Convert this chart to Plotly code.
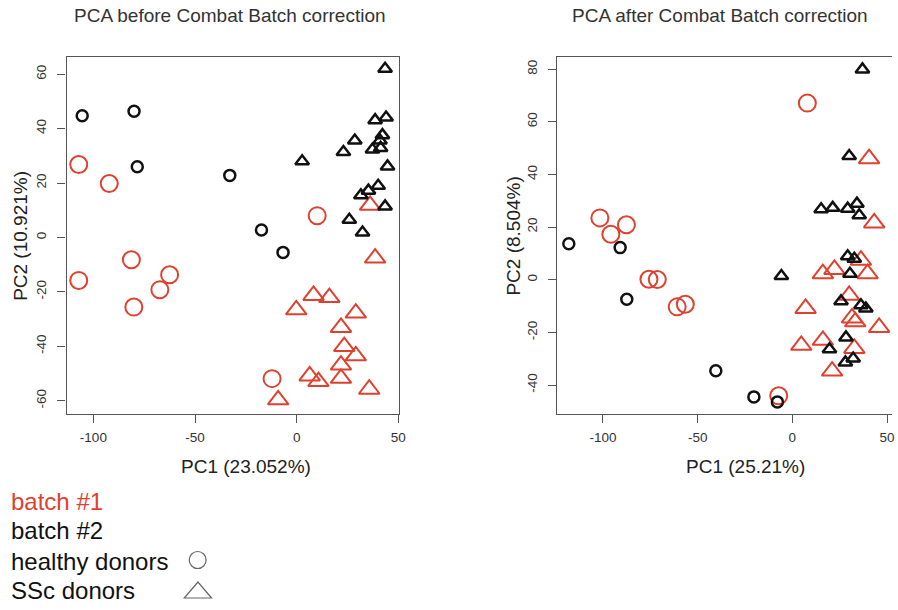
import plotly.graph_objects as go

# ---------------- data: PCA before ComBat ----------------
before_b1_healthy_pc1 = [-107.2, -92.2, 10.1, -81.3, -107.2, -62.5, -67.3, -80.1, -12.1]
before_b1_healthy_pc2 = [26.8, 19.8, 8.0, -8.2, -15.8, -13.7, -19.2, -25.6, -51.9]

before_b2_healthy_pc1 = [-105.5, -80.0, -78.4, -32.9, -17.3, -6.7]
before_b2_healthy_pc2 = [44.7, 46.4, 26.0, 22.8, 2.7, -5.5]

before_b1_ssc_pc1 = [36.1, 38.6, 8.3, 16.1, -0.2, 29.1, 21.8, 23.4, 29.1, 21.8, 6.4, 10.7, 21.8, 35.7, -9.1]
before_b1_ssc_pc2 = [11.8, -7.6, -21.3, -22.1, -26.6, -27.8, -33.1, -40.1, -43.5, -46.9, -50.9, -53.0, -51.8, -55.8, -59.7]

before_b2_ssc_pc1 = [43.5, 38.6, 44.0, 28.6, 23.0, 42.2, 41.0, 37.3, 41.3, 44.7, 2.7, 40.1, 35.3, 31.6, 43.5, 25.9, 32.4]
before_b2_ssc_pc2 = [62.0, 43.1, 44.1, 35.6, 31.4, 37.6, 35.6, 32.3, 32.9, 26.1, 28.0, 19.0, 17.2, 15.5, 11.4, 6.5, 1.8]

# ---------------- data: PCA after ComBat ----------------
after_b1_healthy_pc1 = [7.9, -101.6, -95.8, -87.6, -75.7, -71.3, -60.8, -56.5, -7.2]
after_b1_healthy_pc2 = [67.1, 23.5, 17.3, 20.9, 0.2, 0.1, -10.3, -9.3, -44.1]

after_b2_healthy_pc1 = [-118.0, -90.9, -87.4, -40.4, -20.3, -7.9]
after_b2_healthy_pc2 = [13.7, 12.2, -7.4, -34.6, -44.5, -46.4]

after_b1_ssc_pc1 = [40.5, 43.2, 36.2, 16.1, 22.2, 39.7, 30.0, 7.0, 33.2, 31.5, 45.8, 4.7, 16.1, 32.7, 21.0]
after_b1_ssc_pc2 = [46.0, 21.6, 7.4, 2.3, 3.9, 2.3, -5.9, -10.9, -16.0, -14.5, -18.1, -24.9, -23.0, -26.1, -34.7]

after_b2_ssc_pc1 = [37.0, 30.0, 15.2, 21.3, 29.2, 34.1, 35.3, 29.2, 32.7, -5.8, 30.4, 25.7, 36.2, 38.8, 28.3, 19.6, 28.0, 32.1]
after_b2_ssc_pc2 = [79.9, 47.0, 26.8, 27.3, 27.0, 28.9, 24.5, 8.9, 8.0, 1.4, 2.3, -8.2, -9.7, -10.9, -21.9, -26.4, -31.4, -29.9]

x_ticks = [-100, -50, 0, 50]
x_tick_labels = ["-100", "-50", "0", "50"]
before_y_ticks = [-60, -40, -20, 0, 20, 40, 60]
before_y_tick_labels = ["-60", "-40", "-20", "0", "20", "40", "60"]
after_y_ticks = [-40, -20, 0, 20, 40, 60, 80]
after_y_tick_labels = ["-40", "-20", "0", "20", "40", "60", "80"]

titles = ["PCA before Combat Batch correction", "PCA after Combat Batch correction"]
x_titles = ["PC1 (23.052%)", "PC1 (25.21%)"]
y_titles = ["PC2 (10.921%)", "PC2 (8.504%)"]
legend_labels = ["batch #1", "batch #2", "healthy donors", "SSc donors"]

RED = "#e0412f"
BLACK = "#111111"
W, H = 898, 610


def px(x):
    return x / W


def py(y):
    return 1 - y / H


fig = go.Figure()


def add_group(xs, ys, color, symbol, size, lw, xa, ya):
    fig.add_trace(go.Scatter(
        x=xs, y=ys, mode="markers", xaxis=xa, yaxis=ya, showlegend=False,
        hoverinfo="skip",
        marker=dict(symbol=symbol, size=size, color=color,
                    line=dict(color=color, width=lw)),
    ))


# before
add_group(before_b1_healthy_pc1, before_b1_healthy_pc2, RED, "circle-open", 17, 2, "x", "y")
add_group(before_b2_healthy_pc1, before_b2_healthy_pc2, BLACK, "circle-open", 11, 2.5, "x", "y")
add_group(before_b1_ssc_pc1, before_b1_ssc_pc2, RED, "triangle-up-open", 18, 2, "x", "y")
add_group(before_b2_ssc_pc1, before_b2_ssc_pc2, BLACK, "triangle-up-open", 12, 2.5, "x", "y")
# after
add_group(after_b1_healthy_pc1, after_b1_healthy_pc2, RED, "circle-open", 17, 2, "x2", "y2")
add_group(after_b2_healthy_pc1, after_b2_healthy_pc2, BLACK, "circle-open", 11, 2.5, "x2", "y2")
add_group(after_b1_ssc_pc1, after_b1_ssc_pc2, RED, "triangle-up-open", 18, 2, "x2", "y2")
add_group(after_b2_ssc_pc1, after_b2_ssc_pc2, BLACK, "triangle-up-open", 12, 2.5, "x2", "y2")

FONT = "Liberation Sans, Arial, sans-serif"
tickfont = dict(family=FONT, size=13.5, color="#333333")
common = dict(showgrid=False, zeroline=False, showline=True, linecolor="#555555",
              linewidth=1.3, ticks="outside", ticklen=8, tickwidth=1.2,
              tickcolor="#555555", tickfont=tickfont)

y_dom = [py(414), py(56.5)]
fig.update_layout(
    width=W, height=H, autosize=False,
    margin=dict(l=0, r=0, t=0, b=0),
    paper_bgcolor="white", plot_bgcolor="white",
    xaxis=dict(domain=[px(67), px(402)], range=[-113.2, 50.5], tickvals=x_ticks,
               ticktext=x_tick_labels, mirror=True, anchor="y",
               ticklabelstandoff=3, **common),
    yaxis=dict(domain=y_dom, range=[-64.9, 66.5], tickvals=before_y_ticks,
               ticktext=before_y_tick_labels, tickangle=-90, mirror=True,
               anchor="x", ticklabelstandoff=6, **common),
    xaxis2=dict(domain=[px(561), 1.0], range=[-124.1, 52.6], tickvals=x_ticks,
                ticktext=x_tick_labels, mirror=True, anchor="y2",
                ticklabelstandoff=3, **common),
    yaxis2=dict(domain=y_dom, range=[-51.0, 84.8], tickvals=after_y_ticks,
                ticktext=after_y_tick_labels, tickangle=-90, mirror=False,
                anchor="x2", ticklabelstandoff=6, **common),
)

ann = []
title_font = dict(family=FONT, size=19, color="#333333")
label_font = dict(family=FONT, size=19, color="#222222")
# titles
for t, cx in zip(titles, [231.5, 725]):
    ann.append(dict(text=t, x=px(cx), y=py(15), xref="paper", yref="paper",
                    xanchor="center", yanchor="middle", showarrow=False, font=title_font))
# axis titles
for xt, cx in zip(x_titles, [248, 751]):
    ann.append(dict(text=xt, x=px(cx), y=py(466), xref="paper", yref="paper",
                    xanchor="center", yanchor="middle", showarrow=False, font=label_font))
for yt, cx in zip(y_titles, [20, 516]):
    ann.append(dict(text=yt, x=px(cx), y=py(236), xref="paper", yref="paper",
                    xanchor="center", yanchor="middle", textangle=-90,
                    showarrow=False, font=label_font))
# legend text
leg_colors = [RED, "#111111", "#111111", "#111111"]
leg_y = [501, 530, 561.5, 590]
for lab, col, yy in zip(legend_labels, leg_colors, leg_y):
    ann.append(dict(text=lab, x=px(9), y=py(yy), xref="paper", yref="paper",
                    xanchor="left", yanchor="middle", showarrow=False,
                    font=dict(family=FONT, size=24, color=col)))
fig.update_layout(annotations=ann)

# legend symbols (decoration)
shapes = [
    dict(type="circle", xref="paper", yref="paper",
         x0=px(190.5), x1=px(207.5), y0=py(568.5), y1=py(551.5),
         line=dict(color="#666666", width=1.2)),
    dict(type="path", xref="paper", yref="paper",
         path=f"M {px(185.5)},{py(598)} L {px(213)},{py(598)} L {px(199.3)},{py(582)} Z",
         line=dict(color="#666666", width=1.2)),
]
fig.update_layout(shapes=shapes)

fig.write_html(
    "out.html",
    config={"displayModeBar": False},
    post_script=("document.documentElement.style.margin='0px';"
                 "document.body.style.margin='0px';document.body.style.padding='0px';"
                 "document.documentElement.style.overflow='hidden';"
                 "document.body.style.overflow='hidden';"),
)
